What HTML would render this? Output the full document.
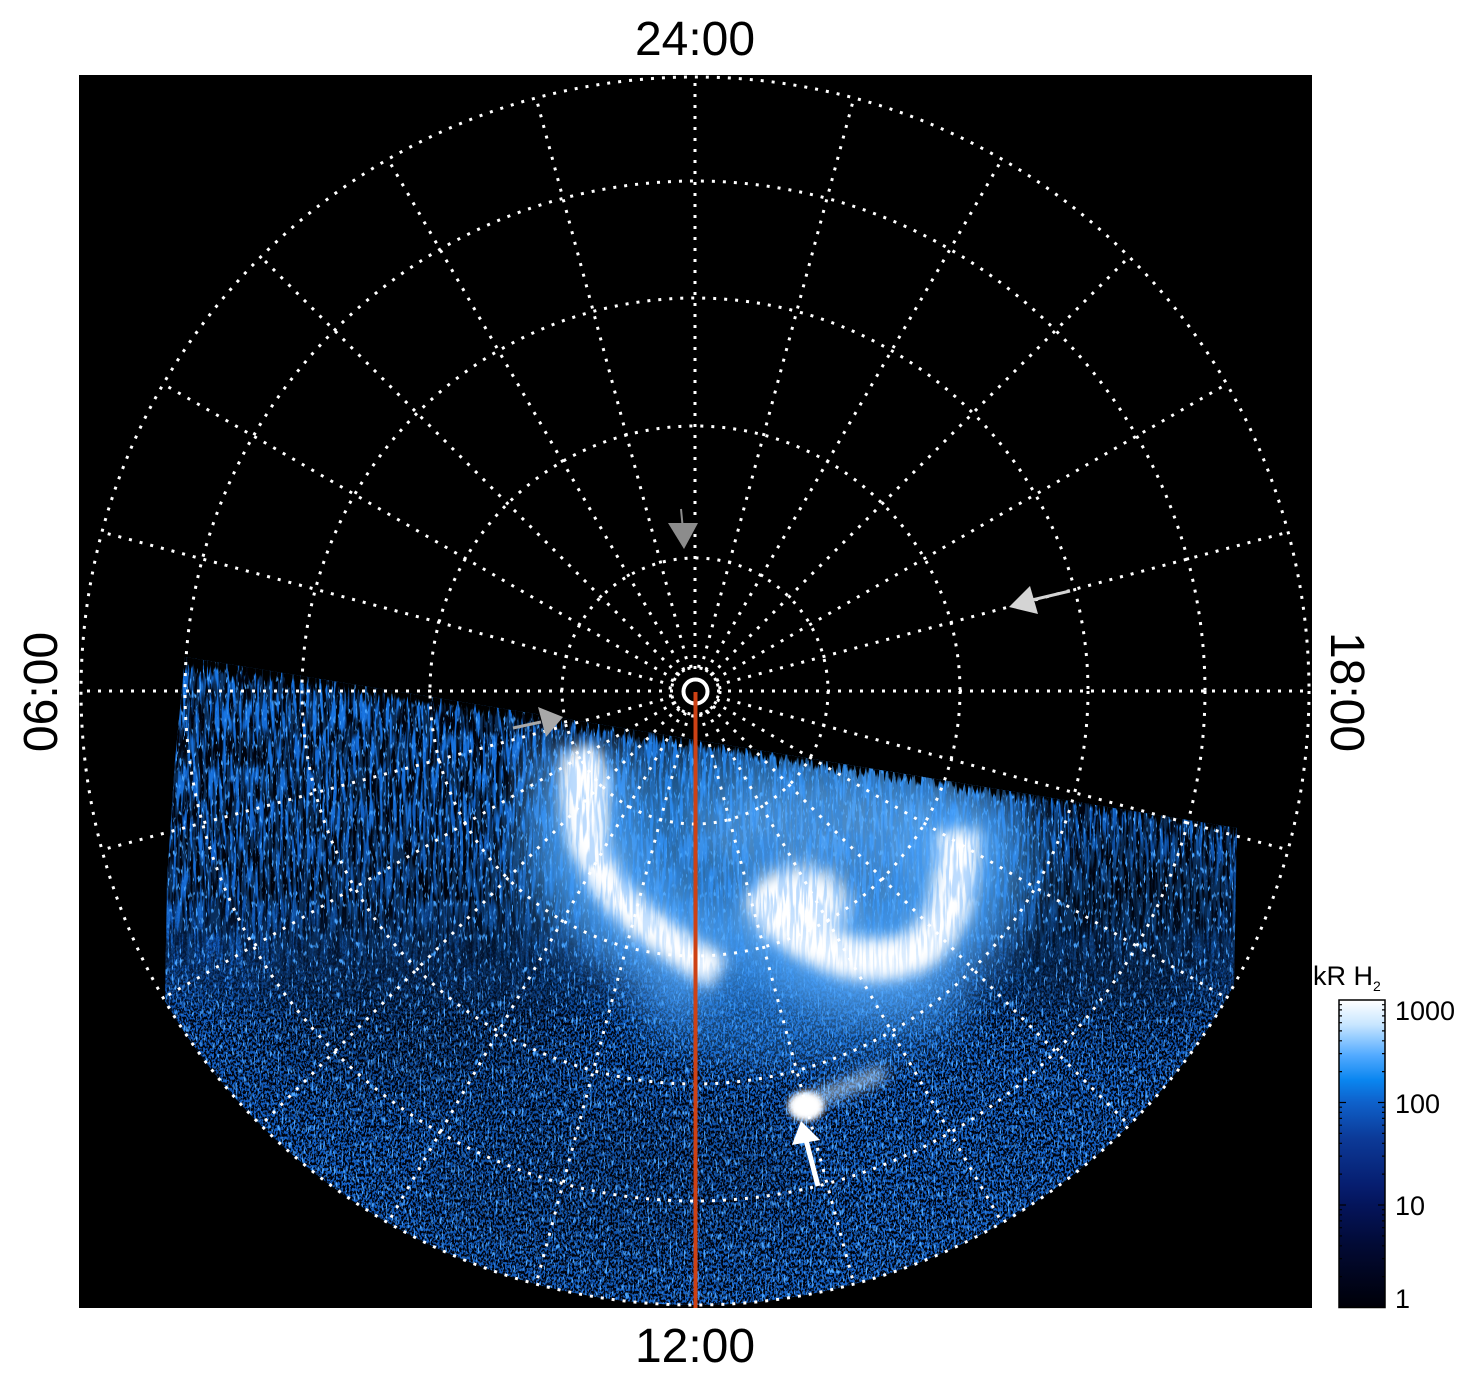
<!DOCTYPE html>
<html><head><meta charset="utf-8">
<style>html,body{margin:0;padding:0;background:#fff;}svg{display:block}</style>
</head><body>
<svg xmlns="http://www.w3.org/2000/svg" width="1480" height="1384" viewBox="0 0 1480 1384" font-family="'Liberation Sans', Arial, sans-serif">
<defs>
  <clipPath id="dc">
    <path d="M185,657 L1237,828 L1234,985 A614,614 0 0 1 165,1001 L167,880 L175,760 Z"/>
  </clipPath>
  <linearGradient id="base" x1="0" y1="650" x2="0" y2="1310" gradientUnits="userSpaceOnUse">
    <stop offset="0" stop-color="#1670dc"/>
    <stop offset="0.45" stop-color="#125cc0"/>
    <stop offset="1" stop-color="#1664ca"/>
  </linearGradient>
  <linearGradient id="gU" x1="0" y1="900" x2="0" y2="1020" gradientUnits="userSpaceOnUse">
    <stop offset="0" stop-color="#fff"/>
    <stop offset="1" stop-color="#000"/>
  </linearGradient>
  <linearGradient id="gL" x1="0" y1="900" x2="0" y2="1020" gradientUnits="userSpaceOnUse">
    <stop offset="0" stop-color="#000"/>
    <stop offset="1" stop-color="#fff"/>
  </linearGradient>
  <linearGradient id="gEdge" x1="700" y1="741" x2="695.2" y2="772" gradientUnits="userSpaceOnUse">
    <stop offset="0" stop-color="#000"/>
    <stop offset="1" stop-color="#fff"/>
  </linearGradient>
  <mask id="mU" maskUnits="userSpaceOnUse" x="0" y="0" width="1480" height="1384">
    <rect x="0" y="0" width="1480" height="1384" fill="url(#gU)"/>
  </mask>
  <mask id="mL" maskUnits="userSpaceOnUse" x="0" y="0" width="1480" height="1384">
    <rect x="0" y="0" width="1480" height="1384" fill="url(#gL)"/>
  </mask>
  <linearGradient id="cb" x1="0" y1="0" x2="0" y2="1">
    <stop offset="0" stop-color="#ffffff"/>
    <stop offset="0.08" stop-color="#c8e6ff"/>
    <stop offset="0.18" stop-color="#52aaff"/>
    <stop offset="0.26" stop-color="#0a86f0"/>
    <stop offset="0.33" stop-color="#0e62cc"/>
    <stop offset="0.45" stop-color="#0c3a98"/>
    <stop offset="0.6" stop-color="#061e70"/>
    <stop offset="0.67" stop-color="#04145a"/>
    <stop offset="0.8" stop-color="#020a34"/>
    <stop offset="1" stop-color="#000008"/>
  </linearGradient>
  <filter id="nzA" filterUnits="userSpaceOnUse" x="150" y="640" width="1100" height="400" color-interpolation-filters="sRGB">
    <feTurbulence type="fractalNoise" baseFrequency="0.3 0.03" numOctaves="2" seed="7"/>
    <feColorMatrix type="matrix" values="0 0 0 0 0  0 0 0 0 0.01  0 0 0 0 0.05  -7.2 0 0 0 4.5"/>
  </filter>
  <filter id="nzA2" filterUnits="userSpaceOnUse" x="150" y="640" width="1100" height="400" color-interpolation-filters="sRGB">
    <feTurbulence type="fractalNoise" baseFrequency="0.3 0.03" numOctaves="2" seed="9"/>
    <feColorMatrix type="matrix" values="0 0 0 0 0.15  0 0 0 0 0.55  0 0 0 0 0.98  -7.2 0 0 0 4.0"/>
  </filter>
  <filter id="nzB" filterUnits="userSpaceOnUse" x="150" y="890" width="1100" height="430" color-interpolation-filters="sRGB">
    <feTurbulence type="fractalNoise" baseFrequency="0.55 0.35" numOctaves="2" seed="11"/>
    <feColorMatrix type="matrix" values="0 0 0 0 0  0 0 0 0 0.01  0 0 0 0 0.05  -8 0 0 0 4.5"/>
  </filter>
  <filter id="nzC" filterUnits="userSpaceOnUse" x="150" y="640" width="1100" height="680" color-interpolation-filters="sRGB">
    <feTurbulence type="fractalNoise" baseFrequency="0.5 0.12" numOctaves="2" seed="23"/>
    <feColorMatrix type="matrix" values="0 0 0 0 0.3  0 0 0 0 0.65  0 0 0 0 1  0 8 0 0 -4.9"/>
  </filter>
  <filter id="edge" filterUnits="userSpaceOnUse" x="150" y="630" width="1100" height="250" color-interpolation-filters="sRGB">
    <feTurbulence type="fractalNoise" baseFrequency="0.35 0.02" numOctaves="2" seed="5" result="t0"/>
    <feColorMatrix in="t0" type="matrix" values="1 0 0 0 0  0 1 0 0 0  0 0 1 0 0  0 0 0 0 1" result="t"/>
    <feComposite in="SourceGraphic" in2="t" operator="arithmetic" k1="0" k2="0.5" k3="0.5" k4="0" result="s"/>
    <feColorMatrix in="s" type="matrix" values="0 0 0 0 0  0 0 0 0 0  0 0 0 0 0  -20 0 0 0 7"/>
  </filter>
  <filter id="b40" x="-50%" y="-50%" width="200%" height="200%"><feGaussianBlur stdDeviation="40"/></filter>
  <filter id="b30" x="-50%" y="-50%" width="200%" height="200%"><feGaussianBlur stdDeviation="30"/></filter>
  <filter id="b22" x="-50%" y="-50%" width="200%" height="200%"><feGaussianBlur stdDeviation="22"/></filter>
  <filter id="b18" x="-50%" y="-50%" width="200%" height="200%"><feGaussianBlur stdDeviation="18"/></filter>
  <filter id="b10" x="-50%" y="-50%" width="200%" height="200%"><feGaussianBlur stdDeviation="10"/></filter>
  <filter id="b7" x="-50%" y="-50%" width="200%" height="200%"><feGaussianBlur stdDeviation="7"/></filter>
  <filter id="b3" x="-50%" y="-50%" width="200%" height="200%"><feGaussianBlur stdDeviation="3"/></filter>
</defs>

<rect x="0" y="0" width="1480" height="1384" fill="#fff"/>
<rect x="79" y="75" width="1233" height="1233" fill="#000"/>

<!-- data -->
<g clip-path="url(#dc)">
  <rect x="150" y="640" width="1100" height="680" fill="url(#base)"/>
  <ellipse cx="420" cy="970" rx="170" ry="120" fill="#000" opacity="0.35" filter="url(#b40)"/>
  <ellipse cx="1140" cy="895" rx="95" ry="30" fill="#000" opacity="0.55" filter="url(#b10)"/>
  <ellipse cx="1130" cy="910" rx="120" ry="80" fill="#000" opacity="0.3" filter="url(#b30)"/>
  <ellipse cx="1100" cy="970" rx="130" ry="60" fill="#000" opacity="0.3" filter="url(#b30)"/>
  <ellipse cx="620" cy="1180" rx="200" ry="80" fill="#000" opacity="0.2" filter="url(#b40)"/>
  <g mask="url(#mU)"><rect x="150" y="640" width="1100" height="400" fill="#000" filter="url(#nzA)"/></g>
  <g mask="url(#mL)"><rect x="150" y="890" width="1100" height="430" fill="#000" filter="url(#nzB)"/></g>
  <rect x="150" y="640" width="1100" height="680" fill="#000" filter="url(#nzC)"/>
  <!-- haze -->
  <ellipse cx="780" cy="860" rx="260" ry="125" fill="#3a9cf5" opacity="0.6" filter="url(#b30)"/>
  <ellipse cx="840" cy="830" rx="150" ry="55" fill="#7cc0ff" opacity="0.45" filter="url(#b22)"/>
  <ellipse cx="800" cy="1010" rx="170" ry="55" fill="#2f8ae8" opacity="0.45" filter="url(#b18)"/>
  <path d="M580,752 C574,810 588,865 622,902 C652,932 688,955 718,973" fill="none" stroke="#5fb0ff" stroke-width="100" opacity="0.7" filter="url(#b22)"/>
  <path d="M765,888 C790,945 860,975 915,952 C948,932 960,885 958,810" fill="none" stroke="#5fb0ff" stroke-width="110" opacity="0.7" filter="url(#b22)"/>
  <!-- white cores -->
  <path d="M580,752 C574,810 588,865 622,902 C652,932 688,955 718,973" fill="none" stroke="#fff" stroke-width="34" filter="url(#b7)"/>
  <ellipse cx="588" cy="800" rx="20" ry="55" fill="#fff" filter="url(#b7)"/>
  <path d="M765,888 C790,945 860,975 915,952 C948,932 960,885 958,830" fill="none" stroke="#fff" stroke-width="42" filter="url(#b7)"/>
  <ellipse cx="800" cy="905" rx="48" ry="38" fill="#fff" filter="url(#b10)"/>
  <!-- blue streak texture over aurora -->
  <g mask="url(#mU)" opacity="0.3"><rect x="150" y="640" width="1100" height="400" fill="#000" filter="url(#nzA2)"/></g>
  <!-- bright spot -->
  <path d="M812,1100 Q845,1088 885,1072" fill="none" stroke="#bfe0ff" stroke-width="13" opacity="0.8" filter="url(#b7)"/>
  <ellipse cx="806" cy="1106" rx="18" ry="15" fill="#fff" filter="url(#b3)"/>
  <!-- jagged top edge -->
  <rect x="150" y="630" width="1100" height="250" fill="url(#gEdge)" filter="url(#edge)"/>
</g>

<!-- grid -->
<g fill="none" stroke="#fff" stroke-width="3" stroke-dasharray="3 8">
  <circle cx="695" cy="691" r="614"/>
  <circle cx="695" cy="691" r="510"/>
  <circle cx="695" cy="691" r="393"/>
  <circle cx="695" cy="691" r="265"/>
  <circle cx="695" cy="691" r="133"/>
  <circle cx="695" cy="691" r="25" stroke-dasharray="3 5"/>
  <g transform="translate(695,691)">
    <line x1="22" y1="0" x2="614" y2="0"/>
    <line x1="22" y1="0" x2="614" y2="0" transform="rotate(15)"/>
    <line x1="22" y1="0" x2="614" y2="0" transform="rotate(30)"/>
    <line x1="22" y1="0" x2="614" y2="0" transform="rotate(45)"/>
    <line x1="22" y1="0" x2="614" y2="0" transform="rotate(60)"/>
    <line x1="22" y1="0" x2="614" y2="0" transform="rotate(75)"/>
    <line x1="22" y1="0" x2="614" y2="0" transform="rotate(90)"/>
    <line x1="22" y1="0" x2="614" y2="0" transform="rotate(105)"/>
    <line x1="22" y1="0" x2="614" y2="0" transform="rotate(120)"/>
    <line x1="22" y1="0" x2="614" y2="0" transform="rotate(135)"/>
    <line x1="22" y1="0" x2="614" y2="0" transform="rotate(150)"/>
    <line x1="22" y1="0" x2="614" y2="0" transform="rotate(165)"/>
    <line x1="22" y1="0" x2="614" y2="0" transform="rotate(180)"/>
    <line x1="22" y1="0" x2="614" y2="0" transform="rotate(195)"/>
    <line x1="22" y1="0" x2="614" y2="0" transform="rotate(210)"/>
    <line x1="22" y1="0" x2="614" y2="0" transform="rotate(225)"/>
    <line x1="22" y1="0" x2="614" y2="0" transform="rotate(240)"/>
    <line x1="22" y1="0" x2="614" y2="0" transform="rotate(255)"/>
    <line x1="22" y1="0" x2="614" y2="0" transform="rotate(270)"/>
    <line x1="22" y1="0" x2="614" y2="0" transform="rotate(285)"/>
    <line x1="22" y1="0" x2="614" y2="0" transform="rotate(300)"/>
    <line x1="22" y1="0" x2="614" y2="0" transform="rotate(315)"/>
    <line x1="22" y1="0" x2="614" y2="0" transform="rotate(330)"/>
    <line x1="22" y1="0" x2="614" y2="0" transform="rotate(345)"/>
  </g>
</g>

<!-- center ring and red line -->
<circle cx="695.5" cy="691.5" r="12" fill="none" stroke="#fff" stroke-width="4"/>
<line x1="695.5" y1="692" x2="695.5" y2="1308" stroke="#cd4114" stroke-width="4"/>

<!-- arrows -->
<line x1="681" y1="509" x2="683" y2="530" stroke="#8c8c8c" stroke-width="2"/>
<polygon points="684,549 668,523 698,523" fill="#8c8c8c"/>
<line x1="1070" y1="591" x2="1032" y2="600" stroke="#d4d4d4" stroke-width="3"/>
<polygon points="1009,607 1030,586 1038,614" fill="#d4d4d4"/>
<line x1="513" y1="728" x2="541" y2="722" stroke="#a8a8a8" stroke-width="3"/>
<polygon points="563,717 538,707 546,737" fill="#a8a8a8"/>
<line x1="818" y1="1186" x2="806" y2="1140" stroke="#fff" stroke-width="5"/>
<polygon points="801,1121 792,1145 820,1140" fill="#fff"/>

<!-- labels -->
<g fill="#000" font-size="48">
  <text x="695" y="55" text-anchor="middle">24:00</text>
  <text x="695" y="1362" text-anchor="middle">12:00</text>
  <text transform="translate(57,692) rotate(-90)" text-anchor="middle">06:00</text>
  <text transform="translate(1331,692) rotate(90)" text-anchor="middle">18:00</text>
</g>

<!-- colorbar -->
<rect x="1339" y="1000" width="46" height="307.5" fill="url(#cb)" stroke="#000" stroke-width="1.5"/>
<g stroke="#000" stroke-width="1.2">
  <line x1="1339" y1="1102.5" x2="1346" y2="1102.5"/><line x1="1385" y1="1102.5" x2="1378" y2="1102.5"/>
  <line x1="1339" y1="1205" x2="1346" y2="1205"/><line x1="1385" y1="1205" x2="1378" y2="1205"/>
  <path d="M1339,1276.6h3M1339,1258.6h3M1339,1245.8h3M1339,1235.9h3M1339,1227.7h3M1339,1220.9h3M1339,1214.9h3M1339,1209.7h3
           M1339,1174.1h3M1339,1156.1h3M1339,1143.3h3M1339,1133.4h3M1339,1125.2h3M1339,1118.4h3M1339,1112.4h3M1339,1107.2h3
           M1339,1071.6h3M1339,1053.6h3M1339,1040.8h3M1339,1030.9h3M1339,1022.7h3M1339,1015.9h3M1339,1009.9h3M1339,1004.7h3
           M1385,1276.6h-3M1385,1258.6h-3M1385,1245.8h-3M1385,1235.9h-3M1385,1227.7h-3M1385,1220.9h-3M1385,1214.9h-3M1385,1209.7h-3
           M1385,1174.1h-3M1385,1156.1h-3M1385,1143.3h-3M1385,1133.4h-3M1385,1125.2h-3M1385,1118.4h-3M1385,1112.4h-3M1385,1107.2h-3
           M1385,1071.6h-3M1385,1053.6h-3M1385,1040.8h-3M1385,1030.9h-3M1385,1022.7h-3M1385,1015.9h-3M1385,1009.9h-3M1385,1004.7h-3"/>
</g>
<g fill="#000" font-size="27">
  <text x="1395" y="1020">1000</text>
  <text x="1395" y="1113">100</text>
  <text x="1395" y="1215">10</text>
  <text x="1395" y="1308">1</text>
  <text x="1313" y="985" font-size="27">kR H<tspan font-size="14" dy="6">2</tspan></text>
</g>
</svg>
</body></html>
